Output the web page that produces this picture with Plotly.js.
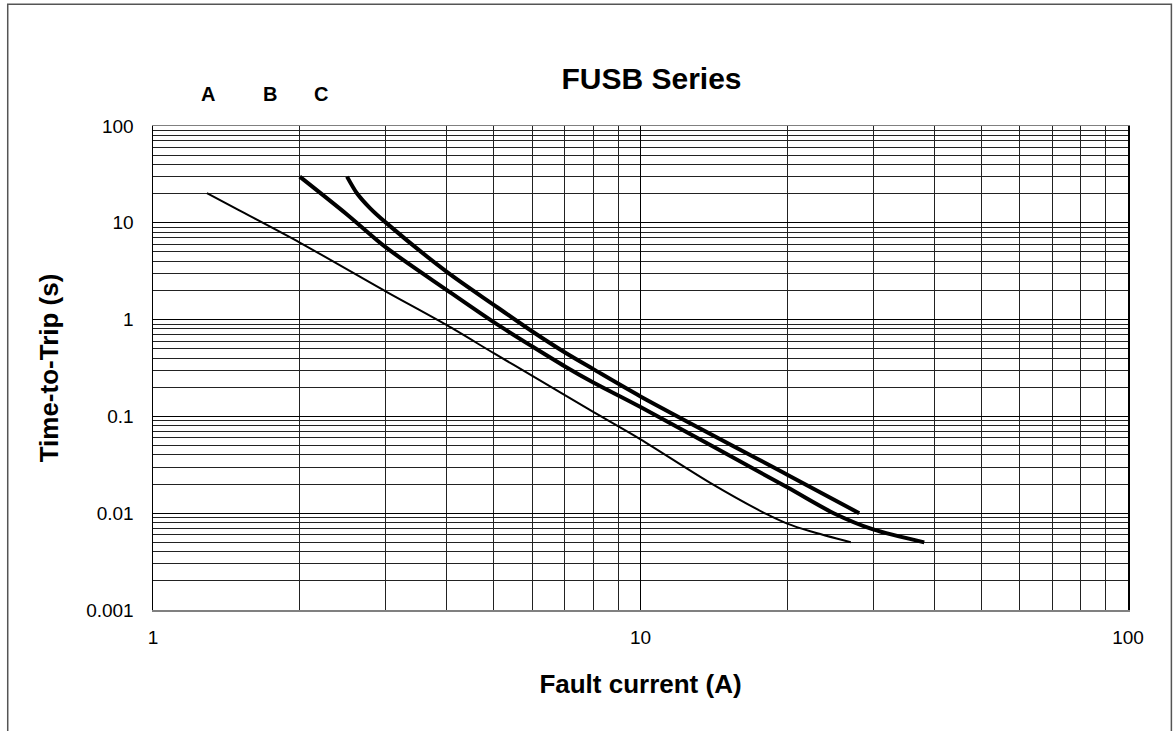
<!DOCTYPE html>
<html>
<head>
<meta charset="utf-8">
<script src="https://cdn.plot.ly/plotly-3.0.1.min.js"></script>
<style>
  html, body { margin: 0; padding: 0; background: #fff; }
  #chart { width: 1176px; height: 731px; }
</style>
</head>
<body>
<div id="chart"></div>
<script>
// ---- Data ----
const curveA_current = [1.29, 1.5, 2, 3, 4, 5, 6, 7.84, 10, 13.9, 18.2, 20, 22.3, 27];
const curveA_time    = [20.2, 13.5, 6.25, 1.96, 0.88, 0.45, 0.262, 0.118, 0.058, 0.0206, 0.0097, 0.0078, 0.0065, 0.005];

const curveB_current = [2, 2.5, 3, 4, 5, 6, 7, 8, 10, 20, 24.9, 30, 38.2];
const curveB_time    = [30, 12.2, 5.6, 2.03, 0.94, 0.527, 0.328, 0.224, 0.125, 0.0185, 0.010, 0.0068, 0.005];

const curveC_current = [2.5, 2.62, 2.79, 3, 4, 5, 6, 7, 8, 10, 20, 28.1];
const curveC_time    = [30, 20.2, 14.1, 10.1, 3.13, 1.42, 0.753, 0.457, 0.308, 0.161, 0.025, 0.01];

const curveLabels = ['A', 'B', 'C'];

const xTickVals = [1, 10, 100];
const xTickText = ['1', '10', '100'];
const yTickVals = [0.001, 0.01, 0.1, 1, 10, 100];
const yTickText = ['0.001', '0.01', '0.1', '1', '10', '100'];

// ---- Chart ----
const FONT = 'Liberation Sans, Arial, Helvetica, sans-serif';

const traces = [
  { x: curveA_current, y: curveA_time, name: curveLabels[0], mode: 'lines',
    line: { color: '#000', width: 2, shape: 'spline', smoothing: 0.8 } },
  { x: curveB_current, y: curveB_time, name: curveLabels[1], mode: 'lines',
    line: { color: '#000', width: 4, shape: 'spline', smoothing: 0.8 } },
  { x: curveC_current, y: curveC_time, name: curveLabels[2], mode: 'lines',
    line: { color: '#000', width: 4, shape: 'spline', smoothing: 0.8 } }
];

const labelX = [0.0562, 0.1205, 0.172];

const layout = {
  width: 1176, height: 731,
  margin: { l: 153, r: 48, t: 126, b: 121, pad: 0 },
  paper_bgcolor: '#fff', plot_bgcolor: '#fff',
  showlegend: false,
  font: { family: FONT, color: '#000' },
  title: {
    text: '<b>FUSB Series</b>',
    font: { family: FONT, size: 30, color: '#000' },
    xref: 'container', yref: 'container',
    x: 0.554, xanchor: 'center', y: 0.892, yanchor: 'middle'
  },
  xaxis: {
    type: 'log', range: [0, 2],
    tickmode: 'array', tickvals: xTickVals, ticktext: xTickText,
    ticks: '', ticklabelstandoff: 10,
    tickfont: { family: FONT, size: 19, color: '#000' },
    showgrid: true, gridcolor: '#000', gridwidth: 1,
    minor: { dtick: 'D1', showgrid: true, gridcolor: '#222', gridwidth: 1, ticks: '' },
    showline: true, linecolor: '#808080', linewidth: 1.5, mirror: true,
    zeroline: false,
    title: { text: '<b>Fault current (A)</b>', font: { family: FONT, size: 26, color: '#000' }, standoff: 27 }
  },
  yaxis: {
    type: 'log', range: [-3, 2],
    tickmode: 'array', tickvals: yTickVals, ticktext: yTickText,
    ticks: '', ticklabelstandoff: 14,
    tickfont: { family: FONT, size: 19, color: '#000' },
    showgrid: true, gridcolor: '#000', gridwidth: 1,
    minor: { dtick: 'D1', showgrid: true, gridcolor: '#222', gridwidth: 1, ticks: '' },
    showline: true, linecolor: '#000', linewidth: 1.5, mirror: true,
    zeroline: false,
    title: { text: '<b>Time-to-Trip (s)</b>', font: { family: FONT, size: 26, color: '#000' }, standoff: 20 }
  },
  annotations: curveLabels.map((t, i) => ({
    text: '<b>' + t + '</b>', xref: 'paper', yref: 'paper',
    x: labelX[i], y: 1.066, xanchor: 'center', yanchor: 'middle',
    showarrow: false, font: { family: FONT, size: 20, color: '#000' }
  })),
  shapes: [{
    type: 'rect', xref: 'paper', yref: 'paper',
    x0: -0.149, x1: 1.0445, y0: -0.3, y1: 1.2518,
    line: { color: '#555', width: 1.5 }, fillcolor: 'rgba(0,0,0,0)', layer: 'below'
  }]
};

Plotly.newPlot('chart', traces, layout, { staticPlot: true, displayModeBar: false });
</script>
</body>
</html>
